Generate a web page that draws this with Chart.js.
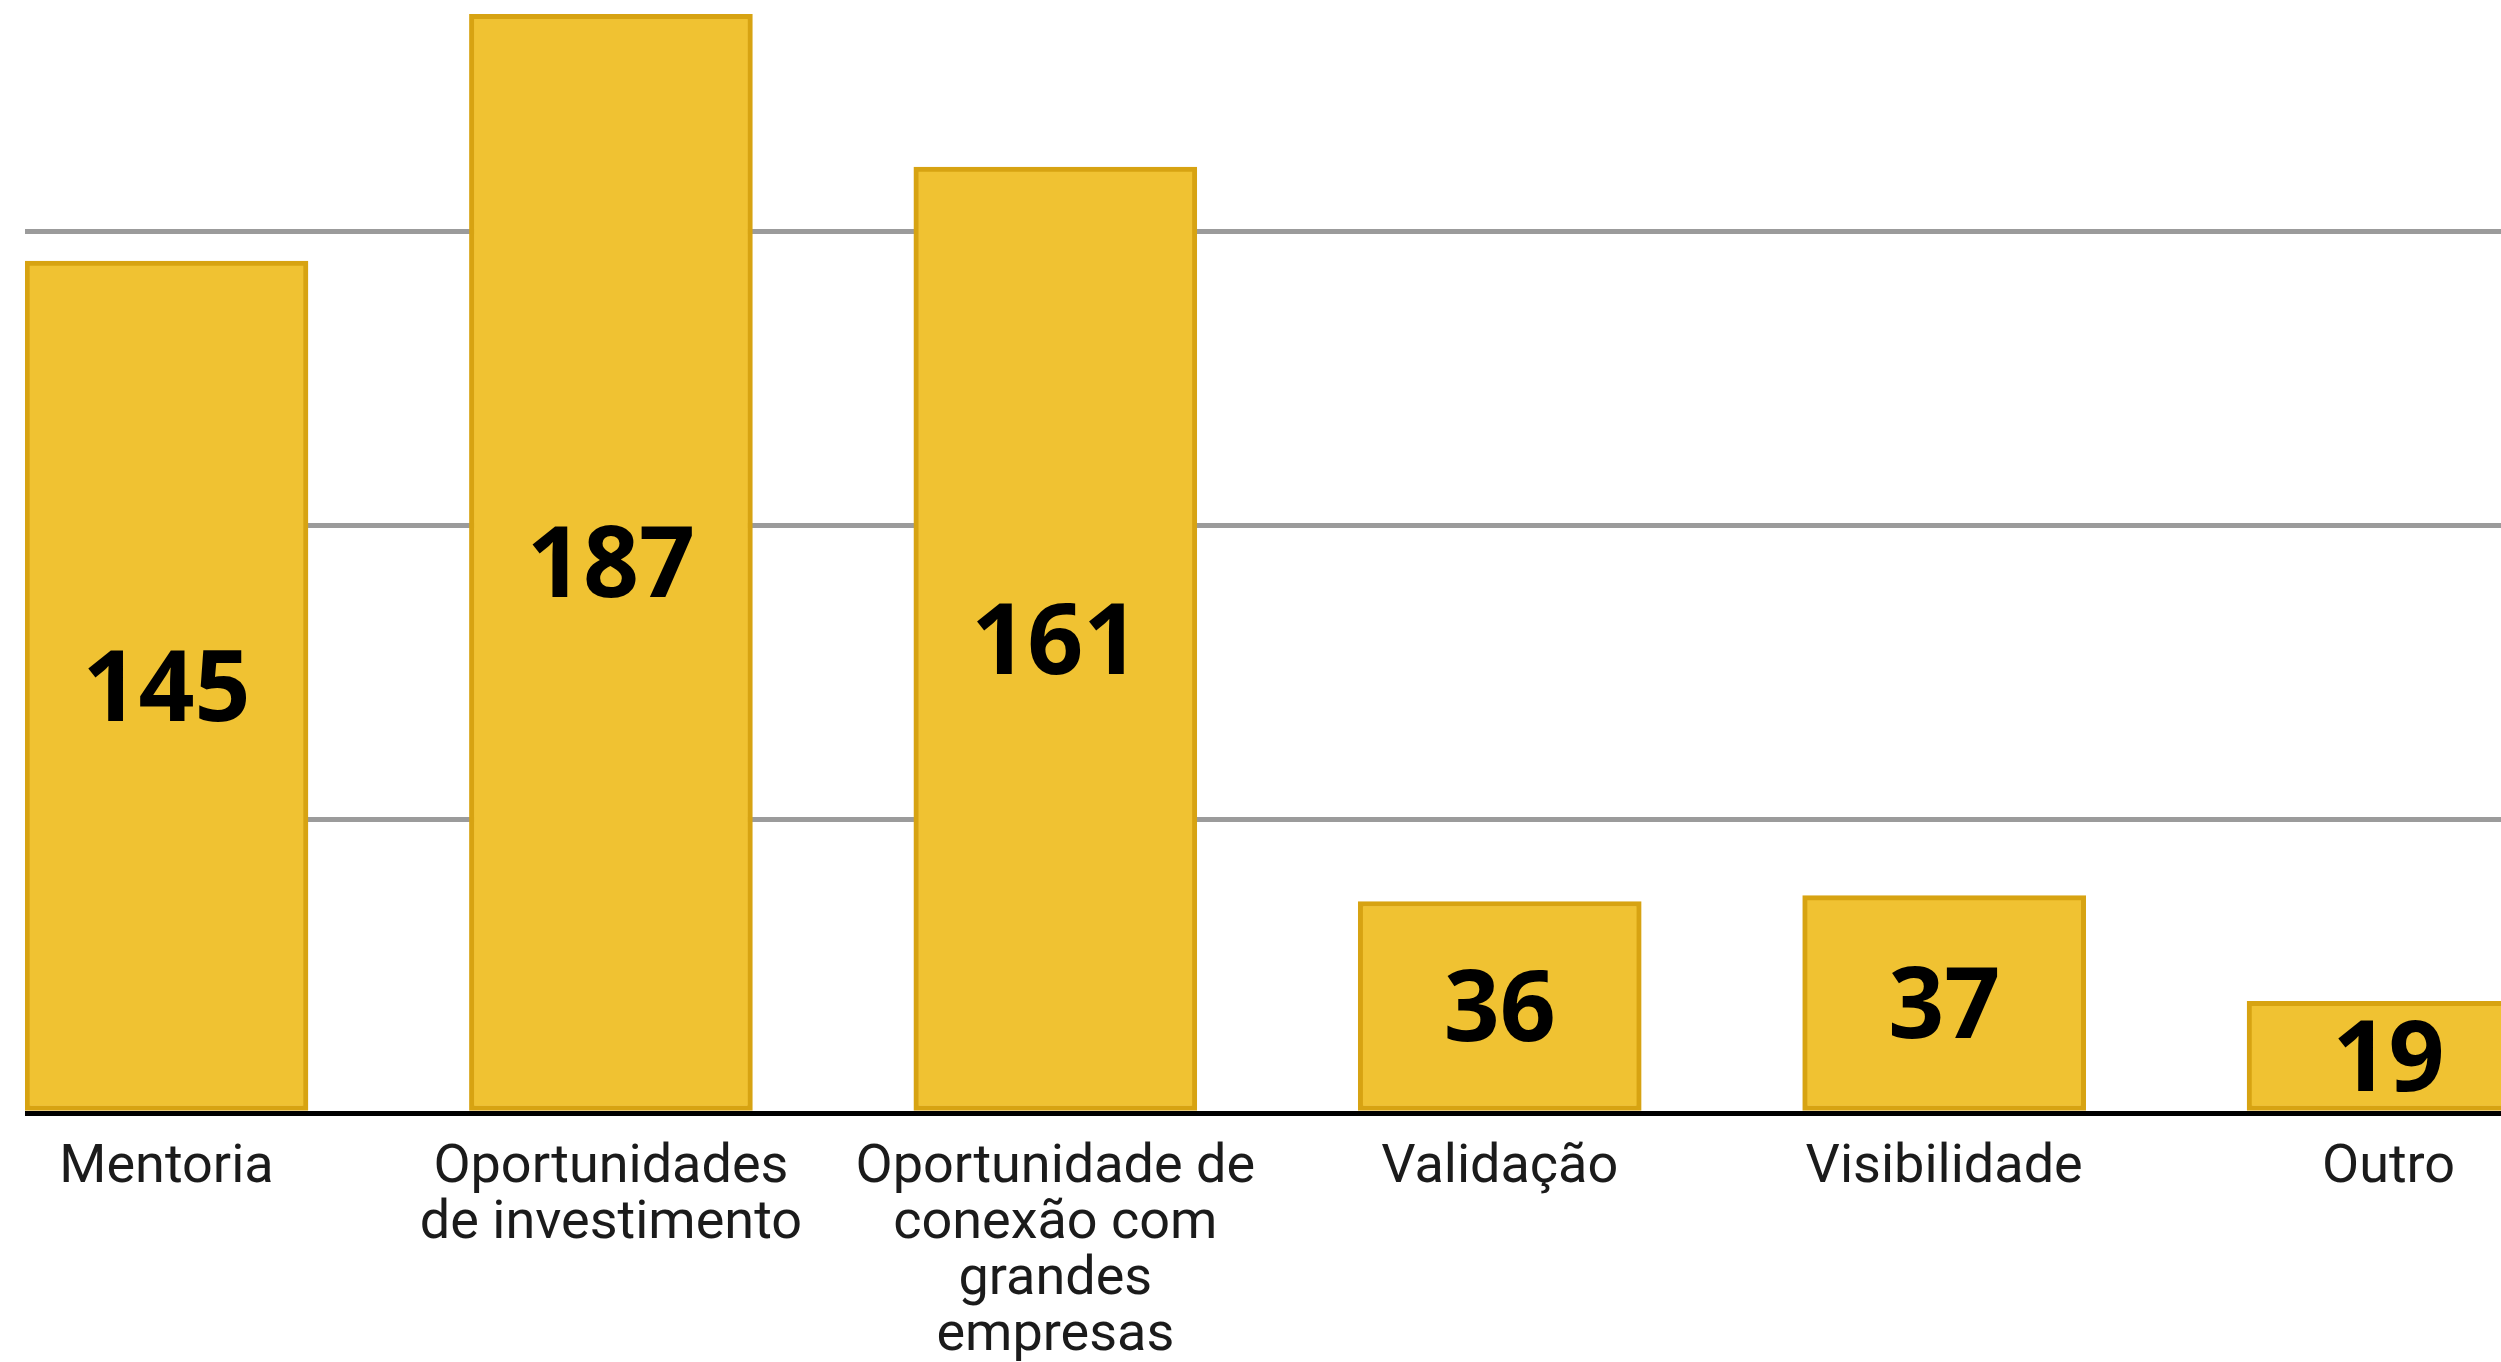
<!DOCTYPE html>
<html lang="pt">
<head>
<meta charset="utf-8">
<title>Principais necessidades das startups</title>
<script src="https://cdn.jsdelivr.net/npm/chart.js@4.4.1/dist/chart.umd.min.js"></script>
<style>
  html, body { margin: 0; padding: 0; background: #ffffff; overflow: hidden; width: 2501px; height: 1362px; }
  #wrap { position: absolute; left: 25px; top: -62px; }
</style>
</head>
<body>
<div id="wrap"><canvas id="chart" width="2700" height="1424"></canvas></div>
<script>
// Category names, one array entry per printed line
const categories = [
  ['Mentoria'],
  ['Oportunidades', 'de investimento'],
  ['Oportunidade de', 'conexão com', 'grandes', 'empresas'],
  ['Validação'],
  ['Visibilidade'],
  ['Outro']
];

// Number of responses per category
const responses = [145, 187, 161, 36, 37, 19];

// Horizontal guide lines
const gridValues = [0, 50, 100, 150, 200];

const barFill = '#F0C232';
const barEdge = '#D7A312';

// Prints each bar's value in the middle of the bar
const valueLabels = {
  id: 'valueLabels',
  afterDatasetsDraw(chart) {
    const { ctx } = chart;
    const meta = chart.getDatasetMeta(0);
    const size = 98;
    ctx.save();
    ctx.font = `700 ${size}px "Open Sans"`;
    ctx.fillStyle = '#000000';
    ctx.textAlign = 'center';
    ctx.textBaseline = 'alphabetic';
    meta.data.forEach((bar, i) => {
      const { x, y, base } = bar.getProps(['x', 'y', 'base'], true);
      const mid = (y + base) / 2;
      ctx.fillText(String(responses[i]), x, mid + size * 0.357);
    });
    ctx.restore();
  }
};

new Chart(document.getElementById('chart'), {
  type: 'bar',
  data: {
    datasets: [{
      data: responses.map((v, i) => ({ x: i, y: v })),
      backgroundColor: barFill,
      borderColor: barEdge,
      borderWidth: 5,
      borderSkipped: false,
      barThickness: 283
    }]
  },
  options: {
    responsive: false,
    animation: false,
    events: [],
    layout: { padding: 0, autoPadding: false },
    plugins: {
      legend: { display: false },
      tooltip: { enabled: false },
      title: { display: false }
    },
    scales: {
      x: {
        type: 'linear',
        position: 'bottom',
        offset: false,
        min: -0.3184,
        max: 5.757,
        z: 1,
        grid: { display: false, drawTicks: false, offset: false },
        border: { display: true, color: '#000000', width: 5 },
        afterBuildTicks: (axis) => {
          axis.ticks = categories.map((_, i) => ({ value: i }));
        },
        afterFit: (axis) => {
          axis.height = 249;
          axis.paddingLeft = 0;
          axis.paddingRight = 0;
        },
        ticks: {
          autoSkip: false,
          maxRotation: 0,
          minRotation: 0,
          padding: 27,
          color: '#1b1b1b',
          font: { family: 'Roboto', size: 54, weight: '400', lineHeight: '56px' },
          callback: (value) => categories[value]
        }
      },
      y: {
        type: 'linear',
        min: 0,
        max: 200,
        afterBuildTicks: (axis) => {
          axis.ticks = gridValues.map(v => ({ value: v }));
        },
        grid: { color: '#9b9b9b', lineWidth: 5, drawTicks: false },
        border: { display: false },
        ticks: { display: false }
      }
    }
  },
  plugins: [valueLabels]
});
</script>
</body>
</html>
